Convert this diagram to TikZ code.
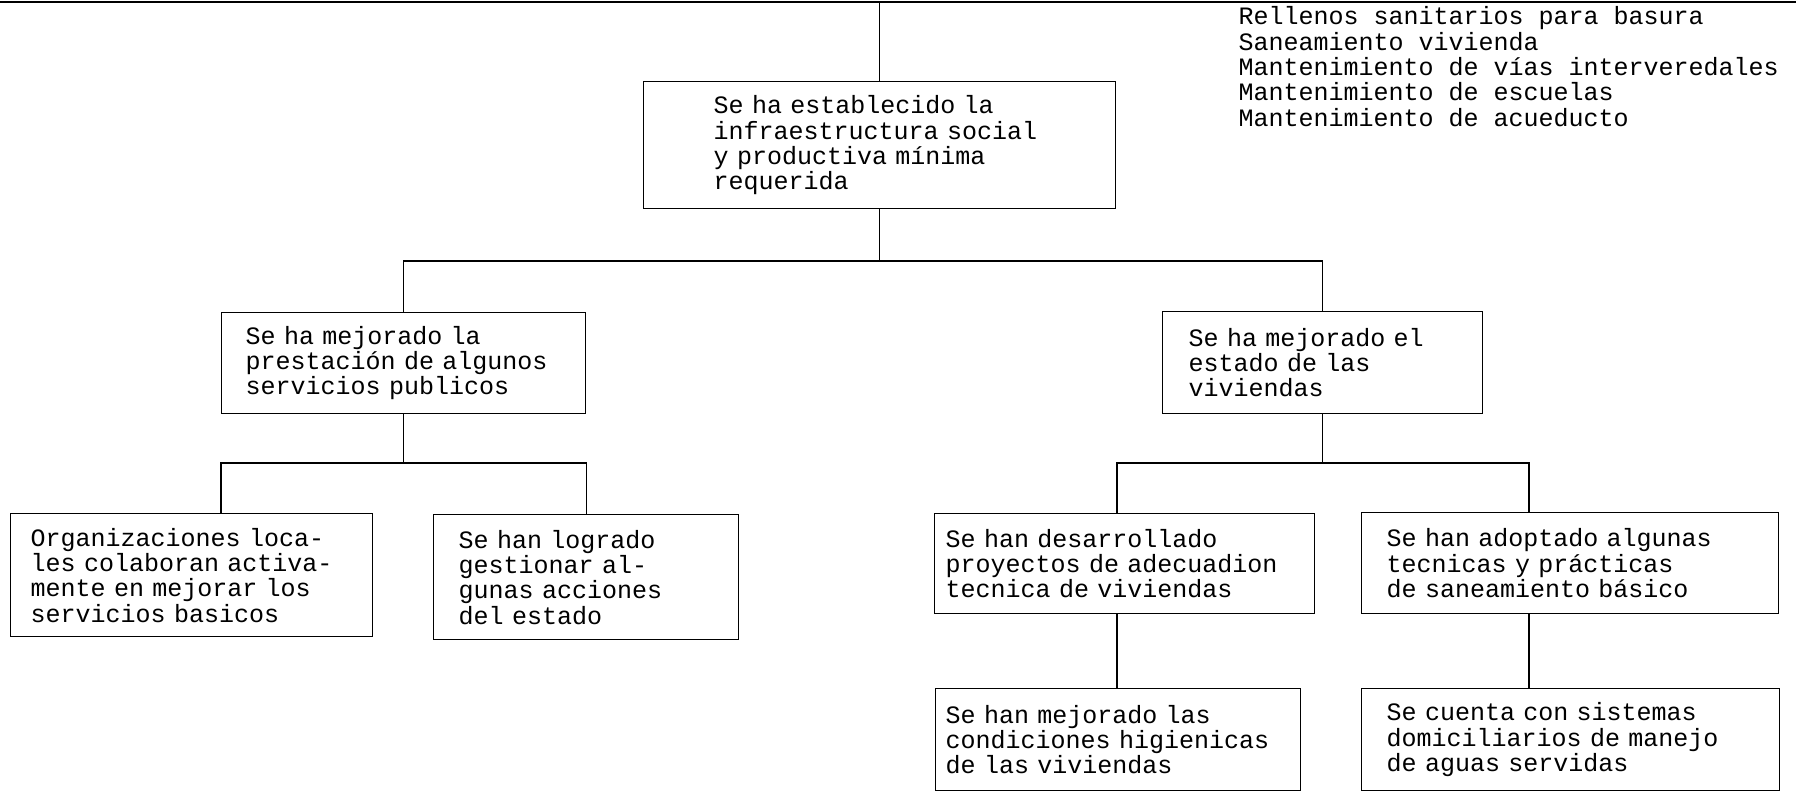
\documentclass[tikz,border=0pt]{standalone}
\usepackage{fontspec}
\setmonofont{Liberation Mono}

\begin{document}
\begin{tikzpicture}[x=1pt, y=-1pt, line width=1.4pt,
  caja/.style={draw, rectangle, anchor=north west, align=left, inner ysep=0pt,
    font=\ttfamily\fontsize{25}{25.3}\selectfont},
  lista/.style={anchor=north west, align=left, inner sep=0pt,
    font=\ttfamily\fontsize{25}{25.3}\selectfont}]
\useasboundingbox (0,0) rectangle (1796,792);
\coordinate (rizq) at (0,2);
\coordinate (rder) at (1796,2);
\draw[line width=2.5pt] (rizq) -- (rder);

\node[caja, inner xsep=70pt, text width=332pt, minimum height=127pt] (infra) at (643,81) {Se ha establecido la\\infraestructura social\\y productiva mínima\\requerida};
\node[caja, inner xsep=24pt, text width=316pt, minimum height=101pt] (serv) at (221,312) {Se ha mejorado la\\prestación de algunos\\servicios publicos};
\node[caja, inner xsep=26pt, text width=268pt, minimum height=102pt] (viv) at (1162,311) {Se ha mejorado el\\estado de las\\viviendas};
\node[caja, inner xsep=20pt, text width=322pt, minimum height=123pt] (org) at (10,513) {Organizaciones loca-\\les colaboran activa-\\mente en mejorar los\\servicios basicos};
\node[caja, inner xsep=25pt, text width=255pt, minimum height=125pt] (gest) at (433,514) {Se han logrado\\gestionar al-\\gunas acciones\\del estado};
\node[caja, inner xsep=11pt, text width=358pt, minimum height=100pt] (proy) at (934,513) {Se han desarrollado\\proyectos de adecuadion\\tecnica de viviendas};
\node[caja, inner xsep=25pt, text width=367pt, minimum height=101pt] (tecn) at (1361,512) {Se han adoptado algunas\\tecnicas y prácticas\\de saneamiento básico};
\node[caja, inner xsep=10pt, text width=345pt, minimum height=102pt] (hig) at (935,688) {Se han mejorado las\\condiciones higienicas\\de las viviendas};
\node[caja, inner xsep=25pt, text width=368pt, minimum height=102pt] (aguas) at (1361,688) {Se cuenta con sistemas\\domiciliarios de manejo\\de aguas servidas};

\node[lista] (obras) at (1238,6) {Rellenos sanitarios para basura\\Saneamiento vivienda\\Mantenimiento de vías interveredales\\Mantenimiento de escuelas\\Mantenimiento de acueducto};

\coordinate (b1) at (0,261);
\coordinate (bL) at (0,463);
\coordinate (bR1) at (1117,463);
\coordinate (bR2) at (1529,463);
\draw (infra.north) -- (infra.north |- rizq);
\draw (infra.south) -- (infra.south |- b1);
\draw (serv.north) -- (serv.north |- b1) -- (viv.north |- b1) -- (viv.north);
\draw (serv.south) -- (serv.south |- bL);
\draw (org.north -| serv.west) -- (serv.west |- bL) -- (serv.east |- bL) -- (gest.north -| serv.east);
\draw (viv.south) -- (viv.south |- bR1);
\draw (proy.north -| bR1) -- (bR1) -- (bR2) -- (tecn.north -| bR2);
\draw (proy.south -| bR1) -- (hig.north -| bR1);
\draw (tecn.south -| bR2) -- (aguas.north -| bR2);
\end{tikzpicture}
\end{document}
